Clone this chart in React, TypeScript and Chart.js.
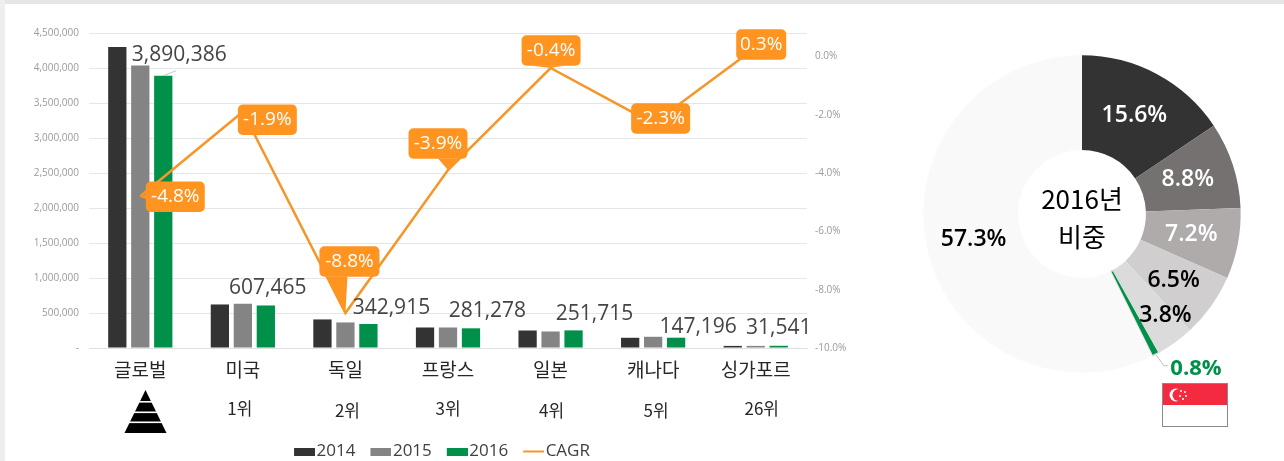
import React, { useEffect, useRef } from "react";
import { Chart, registerables } from "chart.js";

Chart.register(...registerables);

const FONT = '"Open Sans","Noto Sans CJK KR",sans-serif';
const KR = '"Noto Sans CJK KR","Open Sans",sans-serif';

const categories = ["글로벌", "미국", "독일", "프랑스", "일본", "캐나다", "싱가포르"];
const ranks = ["", "1위", "2위", "3위", "4위", "5위", "26위"];
const values2014 = [4300000, 622000, 408000, 293000, 250000, 146000, 30000];
const values2015 = [4035000, 632000, 365000, 293000, 236000, 160000, 30000];
const values2016 = [3890386, 607465, 342915, 281278, 251715, 147196, 31541];
const cagr = [-4.8, -1.9, -8.8, -3.9, -0.4, -2.3, 0.3];
const rightTicks = [-10, -8, -6, -4, -2, 0];

const shareLabels = ["미국", "독일", "프랑스", "일본", "캐나다", "싱가포르", "기타"];
const shareValues = [15.6, 8.8, 7.2, 6.5, 3.8, 0.8, 57.3];
const shareColors = ["#333333", "#767171", "#AFABAB", "#D0CECE", "#DBDBDB", "#00904A", "#F9F9F9"];
const shareTextColors = ["#ffffff", "#ffffff", "#ffffff", "#000000", "#000000", "#00904A", "#000000"];

// Layout of decorations, separate from the data
const barLabelOffsets = [[16, -20.6], [2, -17], [23, -15.5], [16.4, -16.8], [21, -16], [22, -10.5], [0, -18]];
const rankOffsets = [[0, 0], [-3, 0], [2, 2], [0, 0], [1, 2], [3, 2], [6, 0]];
const calloutBoxes = [
  { dx: 35, dy: 0.5, w: 59, tail: [[6, -6], [6, 4]] },
  { dx: 24.5, dy: 8, w: 59, tail: null },
  { dx: 4, dy: -51.5, w: 60, tail: [[-22, 15], [-2, 15]] },
  { dx: -10, dy: -26.5, w: 59, tail: [[0, 15], [20, 15]] },
  { dx: 0.5, dy: -17.5, w: 59, tail: [[-21, 15], [14, 15]] },
  { dx: 7.5, dy: -5, w: 59, tail: null },
  { dx: 5.5, dy: -3, w: 50, tail: null },
];
const shareLabelOffsets = [[0, 0], [0, 0], [0, 0], [1, 2], [18, 11], [0, 0], [0, 0]];
const ORANGE = "#FF9421";
const LINE = "#F79628";

function legendIcon(color: string, isLine: boolean) {
  const c = document.createElement("canvas");
  c.width = 28;
  c.height = 8;
  const g = c.getContext("2d")!;
  g.fillStyle = color;
  if (isLine) g.fillRect(7, 3, 21, 2);
  else g.fillRect(7, 0, 21, 8);
  return c;
}

const barLabelsPlugin = {
  id: "barLabels",
  afterDatasetsDraw(chart: any) {
    const { ctx, scales } = chart;
    const xs = scales.x;
    const ds = chart.data.datasets;
    const barIdx = ds.findIndex((d: any) => d.label === "2016");
    const lineIdx = ds.findIndex((d: any) => d.label === "CAGR");
    const barMeta = chart.getDatasetMeta(barIdx);
    const lineMeta = chart.getDatasetMeta(lineIdx);
    ctx.save();
    // values above the 2016 bars
    ctx.textAlign = "center";
    ctx.textBaseline = "middle";
    ctx.font = `21px ${FONT}`;
    ctx.fillStyle = "#454545";
    values2016.forEach((v, i) => {
      const b = barMeta.data[i];
      ctx.fillText(v.toLocaleString("en-US"), b.x + barLabelOffsets[i][0], b.y + barLabelOffsets[i][1]);
    });
    // leader of the first value label
    const b0 = barMeta.data[0];
    ctx.strokeStyle = "#c8c8c8";
    ctx.lineWidth = 1;
    ctx.beginPath();
    ctx.moveTo(b0.x, b0.y);
    ctx.lineTo(b0.x + 13, b0.y - 5);
    ctx.stroke();
    // rank line below the categories
    ctx.font = `17px ${KR}`;
    ctx.fillStyle = "#262626";
    ranks.forEach((r, i) => {
      if (r) ctx.fillText(r, xs.getPixelForValue(i) + rankOffsets[i][0], 409 + rankOffsets[i][1]);
    });
    // CAGR callouts
    ctx.font = `19px ${FONT}`;
    cagr.forEach((v, i) => {
      const p = lineMeta.data[i];
      const s = calloutBoxes[i];
      const cx = p.x + s.dx;
      const cy = p.y + s.dy;
      const h = 30.5;
      ctx.fillStyle = ORANGE;
      if (s.tail) {
        ctx.beginPath();
        ctx.moveTo(cx + (i === 0 ? -s.w / 2 : 0) + s.tail[0][0], cy + s.tail[0][1]);
        ctx.lineTo(p.x, p.y + (i === 0 ? 1 : 0));
        ctx.lineTo(cx + (i === 0 ? -s.w / 2 : 0) + s.tail[1][0], cy + s.tail[1][1]);
        ctx.closePath();
        ctx.fill();
      }
      ctx.beginPath();
      ctx.roundRect(cx - s.w / 2, cy - h / 2, s.w, h, 5);
      ctx.fill();
      ctx.fillStyle = "#ffffff";
      ctx.fillText(`${v.toFixed(1)}%`, cx, cy);
    });
    ctx.restore();
  },
};

const shareLabelsPlugin = {
  id: "shareLabels",
  afterDatasetsDraw(chart: any) {
    const { ctx } = chart;
    const meta = chart.getDatasetMeta(0);
    const { x: cx, y: cy } = meta.data[0];
    ctx.save();
    ctx.textAlign = "center";
    ctx.textBaseline = "middle";
    ctx.font = `600 23px ${FONT}`;
    shareValues.forEach((v, i) => {
      if (i === 5) return;
      const arc = meta.data[i];
      const pos = arc.getCenterPoint();
      ctx.fillStyle = shareTextColors[i];
      ctx.fillText(`${v}%`, pos.x + shareLabelOffsets[i][0], pos.y + shareLabelOffsets[i][1]);
    });
    // Singapore: outside label with a leader
    const sg = meta.data[5];
    const mid = (sg.startAngle + sg.endAngle) / 2;
    const ex = cx + Math.cos(mid) * sg.outerRadius;
    const ey = cy + Math.sin(mid) * sg.outerRadius;
    ctx.strokeStyle = "#bdbdbd";
    ctx.lineWidth = 1;
    ctx.beginPath();
    ctx.moveTo(ex, ey);
    ctx.lineTo(ex + 8, ey + 11);
    ctx.lineTo(ex + 12, ey + 11);
    ctx.stroke();
    ctx.fillStyle = shareTextColors[5];
    ctx.font = `700 22px ${FONT}`;
    ctx.fillText(`${shareValues[5]}%`, ex + 40, ey + 14);
    // centre text
    ctx.fillStyle = "#000000";
    ctx.font = `26px ${KR}`;
    ctx.fillText("2016년", cx, cy - 15);
    ctx.fillText("비중", cx, cy + 23);
    ctx.restore();
  },
};

export default function App() {
  const barRef = useRef<HTMLCanvasElement>(null);
  const pieRef = useRef<HTMLCanvasElement>(null);

  useEffect(() => {
    const W = 884;
    const RIGHT = 807;
    const LEFT = 89;
    const barSets = [
      { label: "2014", data: values2014, backgroundColor: "#333333" },
      { label: "2015", data: values2015, backgroundColor: "#848484" },
      { label: "2016", data: values2016, backgroundColor: "#00904A" },
    ].map((d) => ({ ...d, type: "bar", yAxisID: "y", order: 2, categoryPercentage: 0.672, barPercentage: 0.795 }));

    const chart = new Chart(barRef.current!, {
      type: "bar",
      data: {
        labels: categories,
        datasets: [
          ...barSets,
          {
            type: "line",
            label: "CAGR",
            data: cagr,
            yAxisID: "y1",
            order: 1,
            borderColor: LINE,
            backgroundColor: LINE,
            borderWidth: 2.5,
            pointRadius: 0,
            tension: 0,
          },
        ] as any,
      },
      options: {
        animation: false,
        responsive: false,
        layout: { padding: { top: 33, bottom: 0, left: 0, right: 0 } },
        plugins: {
          tooltip: { enabled: false },
          legend: {
            position: "bottom",
            labels: {
              usePointStyle: true,
              pointStyleWidth: 14,
              boxHeight: 8,
              padding: 15,
              color: "#404040",
              font: { size: 17, family: FONT },
              generateLabels: (c: any) =>
                c.data.datasets.map((d: any, i: number) => ({
                  text: d.label,
                  fontColor: "#404040",
                  datasetIndex: i,
                  pointStyle: legendIcon(d.backgroundColor, d.label === "CAGR"),
                  fillStyle: d.backgroundColor,
                  strokeStyle: d.backgroundColor,
                  lineWidth: 0,
                })),
            },
          },
        },
        scales: {
          x: {
            grid: { display: false, drawTicks: false },
            border: { color: "#e0e0e0" },
            ticks: { color: "#262626", padding: 10, font: { size: 19, family: KR }, maxRotation: 0, autoSkip: false },
            afterFit: (s: any) => {
              s.height = 80;
            },
          },
          y: {
            position: "left",
            min: 0,
            max: 4500000,
            grid: { color: "#e6e6e6", drawTicks: false },
            border: { display: false },
            ticks: {
              stepSize: 500000,
              padding: 10,
              color: "#9a9a9a",
              font: { size: 10, family: FONT },
              callback: (v: any) => (v === 0 ? "-" : Number(v).toLocaleString("en-US")),
            },
            afterFit: (s: any) => {
              s.width = LEFT;
            },
          },
          y1: {
            position: "right",
            min: -10,
            max: 0.8,
            grid: { display: false, drawTicks: false },
            border: { display: false },
            afterBuildTicks: (s: any) => {
              s.ticks = rightTicks.map((value) => ({ value }));
            },
            ticks: {
              padding: 8,
              color: "#9a9a9a",
              font: { size: 10, family: FONT },
              callback: (v: any) => `${Number(v).toFixed(1)}%`,
            },
            afterFit: (s: any) => {
              s.width = W - RIGHT;
            },
          },
        },
      } as any,
      plugins: [barLabelsPlugin],
    });

    const pie = new Chart(pieRef.current!, {
      type: "doughnut",
      data: {
        labels: shareLabels,
        datasets: [{
          data: shareValues,
          backgroundColor: shareColors,
          borderWidth: [0, 0, 0, 0, 0, 1, 0],
          borderColor: "#E4E4E4",
          borderAlign: "inner",
        }],
      },
      options: {
        animation: false,
        responsive: false,
        cutout: "40%",
        layout: { padding: { top: 55, bottom: 55, left: 19, right: 19 } },
        plugins: { legend: { display: false }, tooltip: { enabled: false } },
      },
      plugins: [shareLabelsPlugin],
    });

    return () => {
      chart.destroy();
      pie.destroy();
    };
  }, []);

  return (
    <div style={{ position: "relative", width: 1284, height: 461, overflow: "hidden", background: "#fff" }}>
      <style>{"body{margin:0}"}</style>
      <div style={{ position: "absolute", left: 0, top: 0, width: 1284, height: 4, background: "#e6e6e6" }} />
      <div style={{ position: "absolute", left: 0, top: 0, width: 5, height: 461, background: "#eeeeee" }} />
      <canvas ref={barRef} width={884} height={470} style={{ position: "absolute", left: 0, top: 0, display: "block" }} />
      <canvas ref={pieRef} width={356} height={428} style={{ position: "absolute", left: 904, top: 0, display: "block" }} />
      <svg width="46" height="44" style={{ position: "absolute", left: 123, top: 390 }} viewBox="0 0 46 44">
        <polygon points="22.5,0 1.5,43 43.5,43" fill="#000" />
        <rect x="0" y="11" width="46" height="1.6" fill="#fff" />
        <rect x="0" y="21.5" width="46" height="1.6" fill="#fff" />
        <rect x="0" y="31.5" width="46" height="1.6" fill="#fff" />
      </svg>
      <svg width="67" height="45" style={{ position: "absolute", left: 1162, top: 383 }} viewBox="0 0 67 45">
        <rect x="0.5" y="0.5" width="65" height="43" fill="#fff" stroke="#8a8a8a" />
        <rect x="1" y="1" width="64" height="21" fill="#F42A41" />
        <circle cx="14" cy="12" r="6.5" fill="#fff" />
        <circle cx="16.5" cy="12" r="6" fill="#F42A41" />
        <circle cx="19" cy="8" r="1" fill="#fff" />
        <circle cx="23" cy="9" r="1" fill="#fff" />
        <circle cx="24" cy="13" r="1" fill="#fff" />
        <circle cx="21" cy="16" r="1" fill="#fff" />
        <circle cx="18" cy="13" r="1" fill="#fff" />
      </svg>
    </div>
  );
}
